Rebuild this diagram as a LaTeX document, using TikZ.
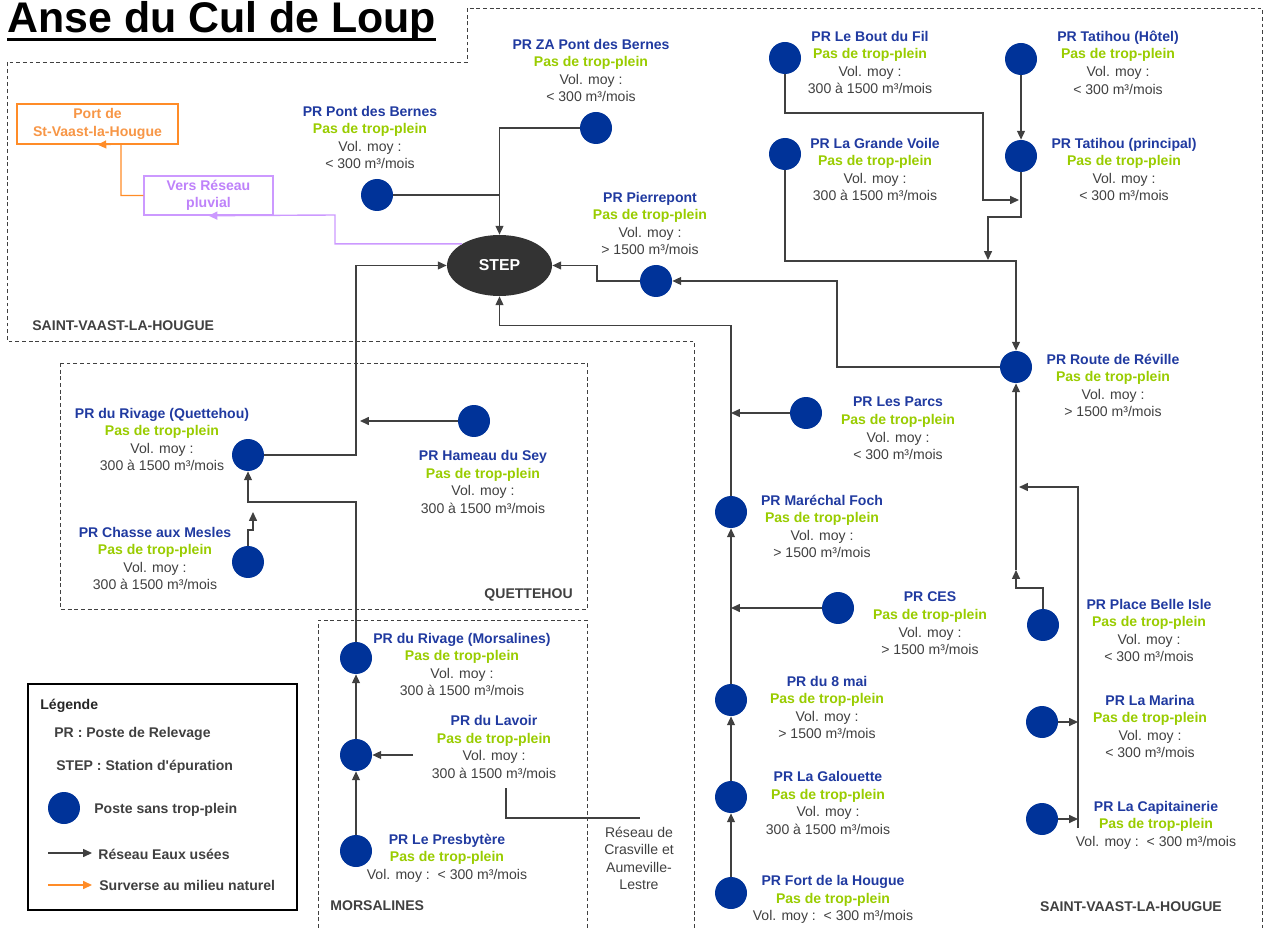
\documentclass[tikz,border=0pt]{standalone}
\usepackage{fontspec}
\setmainfont{Liberation Sans}
\usetikzlibrary{shapes.geometric, positioning, calc, arrows.meta}

\definecolor{stblue}{RGB}{0,51,153}
\definecolor{prblue}{RGB}{32,58,160}
\definecolor{prgreen}{RGB}{153,204,0}
\definecolor{txtgray}{RGB}{64,64,64}
\definecolor{lineg}{RGB}{64,64,64}
\definecolor{survorange}{RGB}{255,140,40}
\definecolor{portorange}{RGB}{247,150,70}
\definecolor{pluvviolet}{RGB}{204,153,255}
\definecolor{pluvtext}{RGB}{190,130,250}

\newcommand{\prlab}[2]{{\color{prblue}\bfseries #1}\\{\color{prgreen}\bfseries Pas de trop-plein}\\#2}

\begin{document}
\begin{tikzpicture}[x=0.02cm, y=-0.02cm,
every node/.style={font=\fontsize{8}{10}\selectfont, text=txtgray},
station/.style={circle, fill=stblue, minimum size=0.64cm, inner sep=0pt},
lbl/.style={align=center, inner sep=0pt},
zone/.style={font=\fontsize{8}{10}\selectfont\bfseries, inner sep=0pt},
arrow/.style={draw=lineg, line width=0.7pt, -{Triangle[length=5pt,width=4.5pt]}},
pipe/.style={draw=lineg, line width=0.7pt},
limit/.style={draw=lineg, dash pattern=on 2.2pt off 1.6pt, line width=0.5pt},
surv/.style={draw=survorange, line width=0.8pt, -{Triangle[length=5pt,width=4.5pt]}},
pluv/.style={draw=pluvviolet, line width=0.8pt, -{Triangle[length=5pt,width=4.5pt]}}]
    \useasboundingbox (0,0) rectangle (1263,928);

    % limites communales
    \draw[limit] (694,928) -- (694,341) -- (7,341) -- (7,62) -- (467,62) -- (467,8) -- (1262,8) -- (1262,928);
    \draw[limit] (60,363) rectangle (587,609);
    \draw[limit] (318,928) -- (318,620) -- (587,620) -- (587,928);

    \node[anchor=base west, inner sep=0pt, text=black, font=\fontsize{24.4}{28}\selectfont\bfseries] (title) at (7,33) {Anse du Cul de Loup};
    \draw[line width=1.7pt] ($(title.base west)+(0,6.5)$) -- ($(title.base east)+(0,6.5)$);

    \node[zone, anchor=west] (svl1) at (32,326) {SAINT-VAAST-LA-HOUGUE};
    \node[zone] (svl2) at (1131,907) {SAINT-VAAST-LA-HOUGUE};
    \node[zone, anchor=east] (quet) at (573,595) {QUETTEHOU};
    \node[zone, anchor=west] (mors) at (330,906) {MORSALINES};

    \node[ellipse, fill=black!80, minimum width=2.1cm, minimum height=1.22cm, inner sep=0pt, text=white, font=\fontsize{9}{11}\selectfont\bfseries] (epur) at (499.5,265.5) {STEP};

    \node[draw=survorange, line width=0.8pt, text=portorange, font=\fontsize{8}{10}\selectfont\bfseries, align=center, minimum width=3.22cm, minimum height=0.8cm, inner sep=0pt] (port) at (97.5,124) {Port de\\St-Vaast-la-Hougue};
    \node[draw=pluvviolet, line width=0.8pt, text=pluvtext, font=\fontsize{8}{10}\selectfont\bfseries, align=center, minimum width=2.58cm, minimum height=0.78cm, inner sep=0pt] (pluvial) at (208.5,195.5) {Vers Réseau\\pluvial};

    % postes de relevage
    \node[station] (zapb) at (596,128) {};
    \node[station] (pb) at (377,195) {};
    \node[station] (bout) at (785,58) {};
    \node[station] (hotel) at (1021,59) {};
    \node[station] (gvoile) at (785,154) {};
    \node[station] (tprinc) at (1021,156) {};
    \node[station] (pierre) at (656,281) {};
    \node[station] (reville) at (1016,367) {};
    \node[station] (parcs) at (806,413) {};
    \node[station] (foch) at (731,512) {};
    \node[station] (ces) at (838,608) {};
    \node[station] (belle) at (1043,625) {};
    \node[station] (mai) at (731,700) {};
    \node[station] (marina) at (1042,722) {};
    \node[station] (galouette) at (731,797) {};
    \node[station] (capit) at (1042,819) {};
    \node[station] (fort) at (731,893) {};
    \node[station] (rivq) at (248,455) {};
    \node[station] (hameau) at (474,421) {};
    \node[station] (chasse) at (248,562) {};
    \node[station] (rivm) at (356,658) {};
    \node[station] (lavoir) at (356,755) {};
    \node[station] (presb) at (356,851) {};

    \node[lbl] (zapbl) at (591,70.5) {\prlab{PR ZA Pont des Bernes}{Vol. moy :\\< 300 m³/mois}};
    \node[lbl] (pbl) at (370,137.5) {\prlab{PR Pont des Bernes}{Vol. moy :\\< 300 m³/mois}};
    \node[lbl] (boutl) at (870,62.5) {\prlab{PR Le Bout du Fil}{Vol. moy :\\300 à 1500 m³/mois}};
    \node[lbl] (hotell) at (1118,62.5) {\prlab{PR Tatihou (Hôtel)}{Vol. moy :\\< 300 m³/mois}};
    \node[lbl] (gvoilel) at (875,169.5) {\prlab{PR La Grande Voile}{Vol. moy :\\300 à 1500 m³/mois}};
    \node[lbl] (tprincl) at (1124,169.5) {\prlab{PR Tatihou (principal)}{Vol. moy :\\< 300 m³/mois}};
    \node[lbl] (pierrel) at (650,223.5) {\prlab{PR Pierrepont}{Vol. moy :\\> 1500 m³/mois}};
    \node[lbl] (revillel) at (1113,385.5) {\prlab{PR Route de Réville}{Vol. moy :\\> 1500 m³/mois}};
    \node[lbl] (parcsl) at (898,428.5) {\prlab{PR Les Parcs}{Vol. moy :\\< 300 m³/mois}};
    \node[lbl] (fochl) at (822,526.5) {\prlab{PR Maréchal Foch}{Vol. moy :\\> 1500 m³/mois}};
    \node[lbl] (cesl) at (930,623.5) {\prlab{PR CES}{Vol. moy :\\> 1500 m³/mois}};
    \node[lbl] (bellel) at (1149,630.5) {\prlab{PR Place Belle Isle}{Vol. moy :\\< 300 m³/mois}};
    \node[lbl] (mail) at (827,707.5) {\prlab{PR du 8 mai}{Vol. moy :\\> 1500 m³/mois}};
    \node[lbl] (marinal) at (1150,726.5) {\prlab{PR La Marina}{Vol. moy :\\< 300 m³/mois}};
    \node[lbl] (galouettel) at (828,803) {\prlab{PR La Galouette}{Vol. moy :\\300 à 1500 m³/mois}};
    \node[lbl] (capitl) at (1156,825) {\prlab{PR La Capitainerie}{Vol. moy :~~< 300 m³/mois}};
    \node[lbl] (fortl) at (833,899.5) {\prlab{PR Fort de la Hougue}{Vol. moy :~~< 300 m³/mois}};
    \node[lbl] (rivql) at (162,439.5) {\prlab{PR du Rivage (Quettehou)}{Vol. moy :\\300 à 1500 m³/mois}};
    \node[lbl] (hameaul) at (483,482) {\prlab{PR Hameau du Sey}{Vol. moy :\\300 à 1500 m³/mois}};
    \node[lbl] (chassel) at (155,558.5) {\prlab{PR Chasse aux Mesles}{Vol. moy :\\300 à 1500 m³/mois}};
    \node[lbl] (rivml) at (462,664.5) {\prlab{PR du Rivage (Morsalines)}{Vol. moy :\\300 à 1500 m³/mois}};
    \node[lbl] (lavoirl) at (494,747) {\prlab{PR du Lavoir}{Vol. moy :\\300 à 1500 m³/mois}};
    \node[lbl] (presbl) at (447,858) {\prlab{PR Le Presbytère}{Vol. moy :~~< 300 m³/mois}};
    \node[lbl] (crasl) at (639,858.5) {Réseau de\\Crasville et\\Aumeville-\\Lestre};

    \coordinate (busend) at (1078,828);
    \coordinate (busin) at (1019,487);
    \coordinate (bellein) at (1016,570);
    \coordinate (tpin) at (988,260);
    \coordinate (boutin) at (1019,200);
    \coordinate (heyin) at (360,421);
    \coordinate (chassein) at (253,512);
    \coordinate (lavin) at (413,755);
    \coordinate (crasa) at (506,788);
    \coordinate (crasb) at (640,818);

    % reseau eaux usees
    \draw[arrow] (zapb) -| (epur.north);
    \draw[pipe] (pb) -- (pb -| epur.north);
    \draw[arrow] (pierre.west) -| (597,265.5) -- (epur.east);
    \draw[arrow] (reville.west) -| (837,281) -- (pierre.east);
    \draw[arrow] (hotel) -- (tprinc);
    \draw[arrow] (bout.south) |- (983,113) |- (boutin);
    \draw[arrow] (tprinc.south) |- (988,217) -- (tpin);
    \draw[arrow] (gvoile.south) |- (1016,261) -- (reville.north);
    \draw[arrow] (belle.north) |- (1016,588) -- (bellein);
    \draw[arrow] (bellein) -- (reville.south);
    \draw[arrow] (busend) |- (busin);
    \draw[arrow] (marina) -- (marina -| busend);
    \draw[arrow] (capit) -- (capit -| busend);
    \draw[arrow] (foch.north) |- ($(epur.south)+(0,29)$) -- (epur.south);
    \draw[arrow] (parcs) -- (parcs -| foch);
    \draw[arrow] (ces) -- (ces -| foch);
    \draw[arrow] (mai) -- (foch);
    \draw[arrow] (galouette) -- (mai);
    \draw[arrow] (fort) -- (galouette);
    \draw[arrow] (rivq) -| (356,265.5) -- (epur.west);
    \draw[arrow] (hameau) -- (heyin);
    \draw[arrow] (chasse.north) -- (248,530) -- (253,530) -- (chassein);
    \draw[arrow] (rivm.north) |- (248,502) -- (rivq.south);
    \draw[arrow] (lavoir) -- (rivm);
    \draw[arrow] (presb) -- (lavoir);
    \draw[arrow] (lavin) -- (lavoir);
    \draw[pipe] (crasa) |- (crasb);

    % surverses
    \draw[pluv] (epur.150) -| (335,215) -- (pluvial.south);
    \draw[surv] (pluvial.west) -| (121,144) -- (port.south);

    % legende
    \node[draw=black, line width=1pt, minimum width=5.38cm, minimum height=4.52cm] (legend) at (162.5,797) {};
    \node[zone, anchor=west, text=black!85] (lgtitle) at (40,706) {Légende};
    \node[zone, anchor=west] (lgpr) at (54,734) {PR : Poste de Relevage};
    \node[zone, anchor=west] (lgstep) at (56,767) {STEP : Station d\textquotesingle épuration};
    \node[station] (lgdot) at (64,808) {};
    \node[zone, anchor=west] (lgpost) at (94,810) {Poste sans trop-plein};
    \node[zone, anchor=west] (lgflow) at (98,854) {Réseau Eaux usées};
    \node[zone, anchor=west] (lgsurv) at (99,885) {Surverse au milieu naturel};
    \draw[arrow] ($(lgflow.west)+(-50,-1)$) -- ($(lgflow.west)+(-6,-1)$);
    \draw[surv] ($(lgsurv.west)+(-51,0)$) -- ($(lgsurv.west)+(-7,0)$);
\end{tikzpicture}
\end{document}
